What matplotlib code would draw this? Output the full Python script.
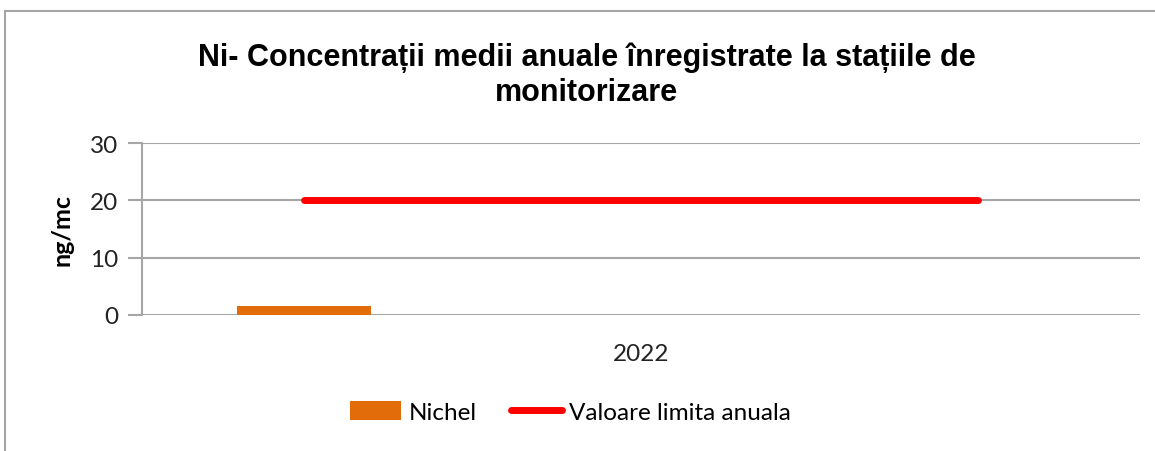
import matplotlib.pyplot as plt
from matplotlib.patches import Rectangle

# data
years = ['2022']
nichel = [1.5]
limita = [20]
n_slots = 6          # grouped-bar slots per category (only the first one has data)
bar_w = 0.135

fig = plt.figure(figsize=(11.55, 4.52), dpi=100)
ax = fig.add_axes([0.1229, 0.3009, 0.8641, 0.3805])

x = list(range(len(years)))
offsets = [(i - (n_slots - 1) / 2) * bar_w for i in range(n_slots)]

bars = ax.bar([xi + offsets[0] for xi in x], nichel, width=bar_w, color='#E36C0A',
              label='Nichel', zorder=3)
for xi, v in zip(x, limita):
    line, = ax.plot([xi + offsets[0], xi + offsets[-1]], [v, v], color='#FF0000', lw=5,
                    solid_capstyle='round', label='Valoare limita anuala', zorder=4)

ax.set_xlim(-0.5, len(years) - 0.5)
ax.set_ylim(0, 30)
ax.set_yticks([0, 10, 20, 30])
ax.set_xticks(x)
ax.set_xticklabels(years)
ax.yaxis.grid(True, color='#A6A6A6', lw=1.5, zorder=0)
for s in ['top', 'right', 'bottom']:
    ax.spines[s].set_visible(False)
ax.spines['left'].set_color('#A6A6A6')
ax.spines['left'].set_linewidth(1.5)
ax.tick_params(axis='y', length=10, width=1.5, color='#A6A6A6', labelsize=17.5,
               labelcolor='#222222', pad=7)
ax.tick_params(axis='x', length=0, labelsize=17.5, labelcolor='#222222', pad=20)
for lab in ax.get_xticklabels() + ax.get_yticklabels():
    lab.set_family('Lato')
ax.set_ylabel('ng/mc', family='Lato', fontweight='bold', fontsize=18, labelpad=12)

fig.text(0.508, 0.833, 'Ni- Concentrații medii anuale înregistrate la stațiile de\nmonitorizare',
         ha='center', va='center', family='Liberation Sans', fontweight='bold',
         fontsize=22, linespacing=1.2)

fig.legend([bars, line], ['Nichel', 'Valoare limita anuala'],
           loc='center', bbox_to_anchor=(0.494, 0.086), ncol=2, frameon=False,
           prop={'family': 'Lato', 'size': 17.5}, handlelength=2.1, handleheight=0.8,
           handletextpad=0.3, columnspacing=1.4)

# outer chart border (cropped on right and bottom)
fig.patches.append(Rectangle((5 / 1155, -0.1), 1.2, 1.1 - 12 / 452,
                             transform=fig.transFigure, fill=False,
                             edgecolor='#A6A6A6', lw=1.5))

fig.savefig('out.png', dpi=100)
